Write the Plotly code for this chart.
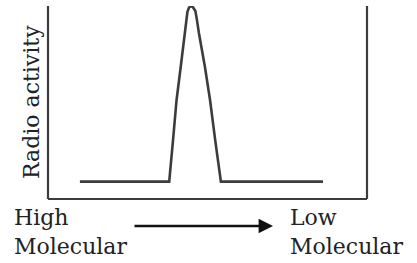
import plotly.graph_objects as go

# Elution profile: position along column (0-100) vs radio activity (0-100)
position = [10.0, 38.0, 39.2, 40.3, 41.6, 42.9, 43.3, 43.7, 44.2, 44.8,
            45.4, 46.2, 46.7, 47.3, 49.2, 50.8, 52.4, 54.2, 86.2]
activity = [9.0, 9.0, 30.6, 51.3, 68.4, 86.0, 92.7, 96.9, 99.2, 100.0,
            99.5, 97.4, 92.7, 86.0, 68.4, 51.3, 30.6, 9.0, 9.0]

y_title = "Radio activity"
left_label = "High<br>Molecular"
right_label = "Low<br>Molecular"

W, H = 417, 263
L, R, T, B = 48, 50, 6, 64
FONT = "DejaVu Serif"
INK = "#3c3c3c"
TXT = "#222222"

fig = go.Figure()
fig.add_trace(go.Scatter(x=position, y=activity, mode="lines",
                         line=dict(color=INK, width=2.6), cliponaxis=False,
                         hoverinfo="skip"))

fig.update_layout(
    width=W, height=H,
    margin=dict(l=L, r=R, t=T, b=B, pad=0),
    plot_bgcolor="white", paper_bgcolor="white",
    showlegend=False,
    xaxis=dict(range=[0, 100], visible=False, fixedrange=True),
    yaxis=dict(range=[0, 100], visible=False, fixedrange=True),
)

# frame lines (left, bottom, right)
for x0, y0, x1, y1 in [(0, 0, 0, 1), (0, 0, 1, 0), (1, 0, 1, 1)]:
    fig.add_shape(type="line", xref="paper", yref="paper",
                  x0=x0, y0=y0, x1=x1, y1=y1,
                  line=dict(color=INK, width=2.2))

pw = W - L - R
ph = H - T - B

def px(x):
    return (x - L) / pw

def py(y):
    return (H - B - y) / ph

# y-axis title
fig.add_annotation(text=y_title, xref="paper", yref="paper",
                   x=px(31), y=py(102), showarrow=False, textangle=-90,
                   font=dict(family=FONT, size=22, color=TXT),
                   xanchor="center", yanchor="middle")

# bottom labels
fig.add_annotation(text=left_label, xref="paper", yref="paper",
                   x=px(12), y=py(232), showarrow=False, align="left",
                   xanchor="left", yanchor="middle",
                   font=dict(family=FONT, size=22, color=TXT))
fig.add_annotation(text=right_label, xref="paper", yref="paper",
                   x=px(288), y=py(232), showarrow=False, align="left",
                   xanchor="left", yanchor="middle",
                   font=dict(family=FONT, size=22, color=TXT))

# arrow
fig.add_annotation(x=px(273), y=py(226), ax=-140, ay=0,
                   xref="paper", yref="paper", axref="pixel", ayref="pixel",
                   text="", showarrow=True, arrowhead=2, arrowsize=1.2,
                   arrowwidth=2.4, arrowcolor="#111")

fig.write_html("out.html", config={"displayModeBar": False},
               post_script="document.body.style.margin='0px';"
                           "document.body.style.overflow='hidden';")
